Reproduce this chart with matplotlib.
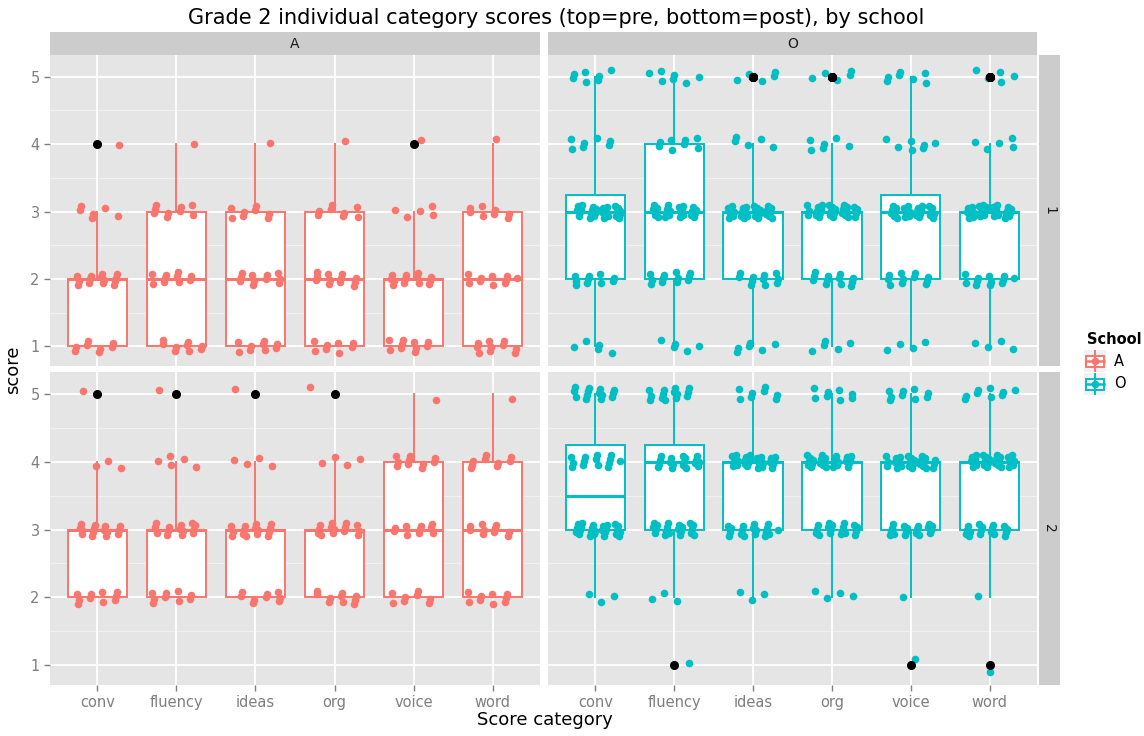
import numpy as np
import matplotlib.pyplot as plt
from matplotlib.patches import Rectangle

categories = ['conv', 'fluency', 'ideas', 'org', 'voice', 'word']
scores = [1, 2, 3, 4, 5]
schools = ['A', 'O']
rounds = ['1', '2']

# number of students at score 1..5, one row per category
a_pre = [[8, 14, 6, 1, 0], [9, 10, 9, 1, 0], [9, 11, 8, 1, 0],
         [8, 12, 8, 1, 0], [10, 13, 5, 1, 0], [10, 10, 8, 1, 0]]
a_post = [[0, 10, 15, 3, 1], [0, 9, 14, 5, 1], [0, 9, 15, 4, 1],
          [0, 10, 14, 4, 1], [0, 8, 10, 10, 1], [0, 9, 10, 9, 1]]
o_pre = [[5, 10, 27, 7, 7], [5, 12, 24, 8, 7], [6, 11, 29, 5, 5],
         [5, 12, 28, 6, 5], [4, 11, 27, 7, 7], [4, 12, 30, 5, 5]]
o_post = [[0, 3, 25, 14, 14], [1, 3, 20, 18, 14], [0, 3, 18, 27, 8],
          [0, 4, 18, 26, 8], [1, 1, 18, 27, 9], [1, 1, 17, 28, 9]]

colors = {'A': '#F8766D', 'O': '#00BFC4'}

W, H = 1144, 736
fig = plt.figure(figsize=(W / 100, H / 100), dpi=100)


def rect(x0, y0, x1, y1):
    return [x0 / W, 1 - y1 / H, (x1 - x0) / W, (y1 - y0) / H]


# fixed, repeatable jitter offsets (quasi-random sequence)
g = 1.32471795724474602596
def jitter(n, start):
    i = np.arange(start, start + n)
    dx = ((0.5 + i / g) % 1) * 2 - 1
    dy = ((0.5 + i / g ** 2) % 1) * 2 - 1
    return dx * 0.32, dy * 0.1


panel_px = {
    (0, 0): (50, 55, 540, 366), (0, 1): (548, 55, 1037, 366),
    (1, 0): (50, 372, 540, 685), (1, 1): (548, 372, 1037, 685),
}
data = {(0, 0): a_pre, (0, 1): o_pre, (1, 0): a_post, (1, 1): o_post}

for (r, c), px in panel_px.items():
    ax = fig.add_axes(rect(*px))
    col = colors[schools[c]]
    ax.set_facecolor('#E5E5E5')
    for y in [1.5, 2.5, 3.5, 4.5]:
        ax.axhline(y, color='#F2F2F2', lw=0.7, zorder=0)
    for y in scores:
        ax.axhline(y, color='white', lw=1.3, zorder=0)
    for x in range(1, 7):
        ax.axvline(x, color='white', lw=1.3, zorder=0)

    vals = [np.repeat(scores, cnt) for cnt in data[(r, c)]]
    bp = ax.boxplot(vals, positions=range(1, 7), widths=0.75, patch_artist=True,
                    showcaps=False, whis=1.5,
                    boxprops=dict(facecolor='white', edgecolor=col, lw=1.4),
                    medianprops=dict(color=col, lw=2.2),
                    whiskerprops=dict(color=col, lw=1.4),
                    flierprops=dict(marker='o', markerfacecolor='black',
                                    markeredgecolor='black', markersize=5.5))
    for f in bp['fliers']:
        f.set_zorder(4)

    for k, v in enumerate(vals):
        dx, dy = jitter(len(v), 7 + 37 * k + 11 * r + 5 * c)
        ax.scatter(k + 1 + dx, v + dy, s=30, color=col, lw=0, zorder=3)

    ax.set_xlim(0.4, 6.6)
    ax.set_ylim(0.71, 5.32)
    for s in ax.spines.values():
        s.set_visible(False)
    ax.set_xticks(range(1, 7))
    ax.set_yticks(scores)
    ax.tick_params(colors='#7F7F7F', length=4, width=1, labelsize=10.5,
                   labelcolor='#7F7F7F')
    if r == 1:
        ax.set_xticklabels(categories)
    else:
        ax.set_xticklabels([])
        ax.tick_params(axis='x', length=0)
    if c == 0:
        ax.set_yticklabels([str(s) for s in scores])
    else:
        ax.set_yticklabels([])
        ax.tick_params(axis='y', length=0)

# strips
for c, (x0, x1) in enumerate([(50, 540), (548, 1037)]):
    s = fig.add_axes(rect(x0, 32, x1, 55))
    s.set_facecolor('#CCCCCC')
    s.set_xticks([]); s.set_yticks([])
    for sp in s.spines.values():
        sp.set_visible(False)
    s.text(0.5, 0.5, schools[c], ha='center', va='center', fontsize=10, color='#1A1A1A')

for r, (y0, y1) in enumerate([(55, 366), (372, 685)]):
    s = fig.add_axes(rect(1039, y0, 1060, y1))
    s.set_facecolor('#CCCCCC')
    s.set_xticks([]); s.set_yticks([])
    for sp in s.spines.values():
        sp.set_visible(False)
    s.text(0.5, 0.5, rounds[r], ha='center', va='center', rotation=-90,
           fontsize=10, color='#1A1A1A')

fig.text(556 / W, 1 - 18 / H,
         'Grade 2 individual category scores (top=pre, bottom=post), by school',
         ha='center', va='center', fontsize=15)
fig.text(545 / W, 1 - 720 / H, 'Score category', ha='center', va='center', fontsize=13)
fig.text(13 / W, 1 - 370 / H, 'score', ha='center', va='center', rotation=90, fontsize=13)

# legend
fig.text(1087 / W, 1 - 339 / H, 'School', ha='left', va='center', fontsize=10.5,
         fontweight='bold')
for i, sch in enumerate(schools):
    y0 = 350 + 23 * i
    k = fig.add_axes(rect(1084, y0, 1106, y0 + 22))
    k.set_facecolor('#F2F2F2')
    k.set_xlim(0, 1); k.set_ylim(0, 1)
    k.set_xticks([]); k.set_yticks([])
    for sp in k.spines.values():
        sp.set_visible(False)
    col = colors[sch]
    k.plot([0.5, 0.5], [0.05, 0.95], color=col, lw=1.4)
    k.add_patch(Rectangle((0.1, 0.25), 0.8, 0.5, facecolor='white', edgecolor=col, lw=1.4))
    k.plot([0.1, 0.9], [0.5, 0.5], color=col, lw=1.8)
    k.scatter([0.5], [0.5], s=30, color=col, lw=0, zorder=3)
    fig.text(1114 / W, 1 - (y0 + 11) / H, sch, ha='left', va='center', fontsize=10.5)

fig.savefig('out.png', dpi=100)
